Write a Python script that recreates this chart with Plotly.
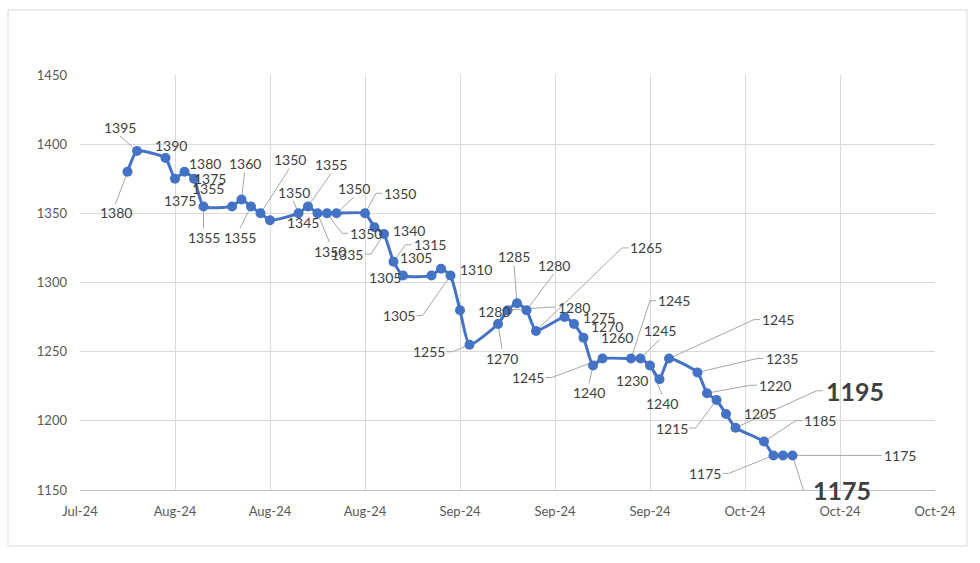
import plotly.graph_objects as go

dates = ["2024-08-01", "2024-08-02",
         "2024-08-05", "2024-08-06", "2024-08-07", "2024-08-08", "2024-08-09",
         "2024-08-12", "2024-08-13", "2024-08-14", "2024-08-15", "2024-08-16",
         "2024-08-19", "2024-08-20", "2024-08-21", "2024-08-22", "2024-08-23",
         "2024-08-26", "2024-08-27", "2024-08-28", "2024-08-29", "2024-08-30",
         "2024-09-02", "2024-09-03", "2024-09-04", "2024-09-05", "2024-09-06",
         "2024-09-09", "2024-09-10", "2024-09-11", "2024-09-12", "2024-09-13",
         "2024-09-16", "2024-09-17", "2024-09-18", "2024-09-19", "2024-09-20",
         "2024-09-23", "2024-09-24", "2024-09-25", "2024-09-26", "2024-09-27",
         "2024-09-30", "2024-10-01", "2024-10-02", "2024-10-03", "2024-10-04",
         "2024-10-07", "2024-10-08", "2024-10-09", "2024-10-10"]

values = [1380, 1395,
          1390, 1375, 1380, 1375, 1355,
          1355, 1360, 1355, 1350, 1345,
          1350, 1355, 1350, 1350, 1350,
          1350, 1340, 1335, 1315, 1305,
          1305, 1310, 1305, 1280, 1255,
          1270, 1280, 1285, 1280, 1265,
          1275, 1270, 1260, 1240, 1245,
          1245, 1245, 1240, 1230, 1245,
          1235, 1220, 1215, 1205, 1195,
          1185, 1175, 1175, 1175]

# emphasised labels (index in series)
bold_points = [46, 50]

# label placement: pixel offset of label centre from its point, and leader style
# ("" none, "v" from label top/bottom, "s" elbow from label side) - layout only
label_layout = [(-12, 41, "v"), (-17, -24, "v"),
                (5, -13, ""), (5, 22, ""), (20, -8, ""), (16, 0, ""), (0, 31, "v"),
                (-24, -18, ""), (3, -36, "v"), (-11, 31, "v"), (29, -54, "v"), (33, 2, ""),
                (-5, -21, "v"), (23, -42, "v"), (12, 38, "v"), (39, 20, "s"), (17, -25, "v"),
                (35, -20, "s"), (34, 3, ""), (-37, 20, "s"), (36, -17, "s"), (-18, 2, ""),
                (-16, -18, ""), (35, 1, ""), (-52, 40, "s"), (34, 1, ""), (-41, 7, "s"),
                (4, 34, "v"), (66, -3, "s"), (-3, -47, "v"), (27, -45, "v"), (110, -83, "s"),
                (34, 0, ""), (33, 2, ""), (33, 0, ""), (-4, 27, "v"), (-75, 19, "s"),
                (43, -58, "s"), (19, -28, "v"), (12, 38, "v"), (-28, 1, ""), (109, -39, "s"),
                (84, -14, "s"), (68, -8, "s"), (-45, 28, "s"), (34, 0, ""), (119, -37, "s"),
                (56, -21, "s"), (-69, 18, "s"), (117, 0, "s"), (49, 35, "s")]

LINE = "#4472C4"
TXT = "#404040"
GRID = "#d9d9d9"
LEADER = "#a6a6a6"
FONT = "Lato, 'Open Sans', sans-serif"

fig = go.Figure()
fig.add_trace(go.Scatter(
    x=dates, y=values, mode="lines+markers",
    line=dict(color=LINE, width=3, shape="spline", smoothing=0.5),
    marker=dict(color=LINE, size=10),
    hoverinfo="x+y", showlegend=False,
))

annotations = []
shapes = [dict(type="rect", xref="paper", yref="paper",
               x0=-0.0842, x1=1.0374, y0=-0.135, y1=1.1566,
               line=dict(color=GRID, width=1), layer="below")]

for i, (d, v) in enumerate(zip(dates, values)):
    dx, dy, lead = label_layout[i]
    bold = i in bold_points
    font = dict(family=FONT, size=25 if bold else 14, color=TXT,
                weight="bold" if bold else "normal")
    annotations.append(dict(
        x=d, y=v, xref="x", yref="y", text=str(v), font=font,
        showarrow=False, xshift=dx, yshift=-dy,
    ))
    if lead:
        hw = 31 if bold else 17
        hh = 14 if bold else 9
        if lead == "s":
            s = 1 if dx > 0 else -1
            x1, y1 = dx - s * (hw + 1), dy
            x2, y2 = dx - s * (hw + 7), dy
            path = f"M {x1},{-y1} L {x2},{-y2} L 0,0"
        else:
            s = 1 if dy > 0 else -1
            x1, y1 = dx, dy - s * hh
            path = f"M {x1},{-y1} L 0,0"
        shapes.append(dict(
            type="path", path=path, xref="x", yref="y",
            xsizemode="pixel", ysizemode="pixel", xanchor=d, yanchor=v,
            line=dict(color=LEADER, width=1), layer="between",
        ))

fig.update_layout(
    width=980, height=563,
    margin=dict(l=80, r=45, t=75, b=73),
    paper_bgcolor="white", plot_bgcolor="white",
    font=dict(family=FONT, color="#595959", size=13),
    annotations=annotations,
    shapes=shapes,
    xaxis=dict(
        type="date", range=["2024-07-27", "2024-10-25"],
        tick0="2024-07-27", dtick=10 * 86400000, tickformat="%b-%y",
        showgrid=True, gridcolor=GRID, gridwidth=1,
        showline=True, linecolor="#bfbfbf", linewidth=1,
        ticks="", ticklabelstandoff=9, zeroline=False,
        tickfont=dict(size=13, color="#595959"),
    ),
    yaxis=dict(
        range=[1150, 1450], dtick=50, tick0=1150,
        showgrid=True, gridcolor=GRID, gridwidth=1,
        showline=False, zeroline=False, ticks="", ticklabelstandoff=12,
        tickfont=dict(size=13, color="#595959"),
    ),
)

fig.write_html("out.html")
